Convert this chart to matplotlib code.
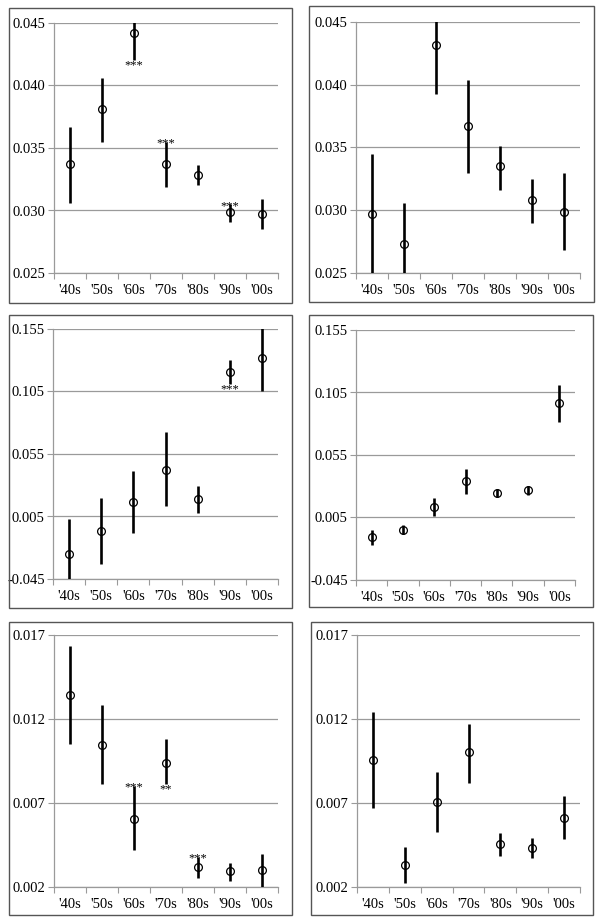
import matplotlib
matplotlib.use("Agg")
import matplotlib.pyplot as plt
from matplotlib.patches import Rectangle
import numpy as np

plt.rcParams['font.family'] = ['Liberation Serif', 'DejaVu Serif']

decades = ["'40s", "'50s", "'60s", "'70s", "'80s", "'90s", "'00s"]

# point estimates and interval ends, one list per panel
p1_mid = [0.0337, 0.0381, 0.0442, 0.0337, 0.0328, 0.0299, 0.0297]
p1_lo = [0.0306, 0.0355, 0.0420, 0.0319, 0.0320, 0.0291, 0.0285]
p1_hi = [0.0367, 0.0406, 0.0464, 0.0355, 0.0336, 0.0305, 0.0309]

p2_mid = [0.0297, 0.0273, 0.0432, 0.0367, 0.0335, 0.0308, 0.0299]
p2_lo = [0.0249, 0.0239, 0.0393, 0.0330, 0.0316, 0.0290, 0.0268]
p2_hi = [0.0345, 0.0306, 0.0471, 0.0404, 0.0351, 0.0325, 0.0330]

p3_mid = [-0.0253, -0.0066, 0.0166, 0.0425, 0.0187, 0.1206, 0.1318]
p3_lo = [-0.0533, -0.0327, -0.0079, 0.0134, 0.0081, 0.1107, 0.1054]
p3_hi = [0.0027, 0.0201, 0.0414, 0.0723, 0.0291, 0.1299, 0.1580]

p4_mid = [-0.0106, -0.0047, 0.0137, 0.0339, 0.0246, 0.0267, 0.0963]
p4_lo = [-0.0167, -0.0082, 0.0065, 0.0238, 0.0211, 0.0233, 0.0814]
p4_hi = [-0.0047, -0.0013, 0.0206, 0.0441, 0.0281, 0.0299, 0.1113]

p5_mid = [0.01342, 0.01046, 0.00605, 0.00941, 0.00317, 0.00297, 0.00300]
p5_lo = [0.01054, 0.00812, 0.00418, 0.00812, 0.00254, 0.00236, 0.00201]
p5_hi = [0.01634, 0.01283, 0.00802, 0.01080, 0.00379, 0.00340, 0.00399]

p6_mid = [0.00957, 0.00329, 0.00705, 0.01001, 0.00454, 0.00432, 0.00611]
p6_lo = [0.00673, 0.00224, 0.00530, 0.00822, 0.00383, 0.00371, 0.00486]
p6_hi = [0.01241, 0.00438, 0.00883, 0.01173, 0.00522, 0.00492, 0.00740]

# significance stars: (decade index, text, 'above' or 'below' the bar)
p1_stars = [(2, '***', 'below'), (3, '***', 'above'), (5, '***', 'above')]
p3_stars = [(5, '***', 'below')]
p5_stars = [(2, '***', 'above'), (3, '**', 'below'), (4, '***', 'above')]

panels = [
    (p1_mid, p1_lo, p1_hi, (0.025, 0.045), [0.025, 0.030, 0.035, 0.040, 0.045], p1_stars),
    (p2_mid, p2_lo, p2_hi, (0.025, 0.045), [0.025, 0.030, 0.035, 0.040, 0.045], []),
    (p3_mid, p3_lo, p3_hi, (-0.045, 0.155), [-0.045, 0.005, 0.055, 0.105, 0.155], p3_stars),
    (p4_mid, p4_lo, p4_hi, (-0.045, 0.155), [-0.045, 0.005, 0.055, 0.105, 0.155], []),
    (p5_mid, p5_lo, p5_hi, (0.002, 0.017), [0.002, 0.007, 0.012, 0.017], p5_stars),
    (p6_mid, p6_lo, p6_hi, (0.002, 0.017), [0.002, 0.007, 0.012, 0.017], []),
]

W, H = 597, 921
# axes rectangles and outer frames in pixels: (left, right, top, bottom)
axes_px = [(54, 278, 23, 273), (356, 580, 22, 273),
           (53, 278, 329, 579), (356, 575, 330, 580),
           (54, 278, 635, 887), (357, 580, 635, 887)]
box_px = [(9, 292, 8, 303), (309, 594, 6, 302),
          (9, 292, 315, 608), (309, 593, 315, 607),
          (9, 292, 622, 915), (311, 593, 622, 915)]

fig = plt.figure(figsize=(W / 100, H / 100), dpi=100)
grey = '#9a9a9a'

for (mid, lo, hi, ylim, yticks, stars), (l, r, t, b), (bl, br, bt, bb) in zip(panels, axes_px, box_px):
    fig.patches.append(Rectangle((bl / W, 1 - bb / H), (br - bl) / W, (bb - bt) / H,
                                 transform=fig.transFigure, fill=False,
                                 edgecolor='#555555', lw=1.0))
    ax = fig.add_axes([l / W, 1 - b / H, (r - l) / W, (b - t) / H])
    x = np.arange(len(decades))
    mid = np.array(mid)
    yerr = [mid - np.array(lo), np.array(hi) - mid]
    ax.errorbar(x, mid, yerr=yerr, fmt='o', color='black', ecolor='black',
                elinewidth=1.9, capsize=0, ms=5.6, mfc='none', mec='black', mew=0.9,
                zorder=3, clip_on=True)

    for i, s, where in stars:
        if where == 'above':
            ax.annotate(s, (x[i], hi[i]), xytext=(0, -3.4), textcoords='offset points',
                        ha='center', va='baseline', fontsize=9)
        else:
            ax.annotate(s, (x[i], lo[i]), xytext=(0, -5.6), textcoords='offset points',
                        ha='center', va='baseline', fontsize=9)

    ax.set_xlim(-0.5, len(decades) - 0.5)
    ax.set_ylim(*ylim)
    ax.set_yticks(yticks)
    ax.set_yticklabels(['%.3f' % v for v in yticks])
    ax.set_xticks(np.arange(-0.5, len(decades)))
    ax.set_xticklabels([])
    ax.set_xticks(x, minor=True)
    ax.set_xticklabels(decades, minor=True)
    ax.tick_params(axis='x', which='major', length=4, color=grey, direction='out')
    ax.tick_params(axis='x', which='minor', length=0, pad=8, labelsize=10.5)
    ax.tick_params(axis='y', length=4, color=grey, labelsize=10.5, pad=2)
    ax.yaxis.grid(True, color=grey, lw=0.9)
    ax.set_axisbelow(True)
    for side in ['top', 'right']:
        ax.spines[side].set_visible(False)
    for side in ['left', 'bottom']:
        ax.spines[side].set_color(grey)
        ax.spines[side].set_linewidth(0.9)

plt.savefig('out.png', dpi=100)
